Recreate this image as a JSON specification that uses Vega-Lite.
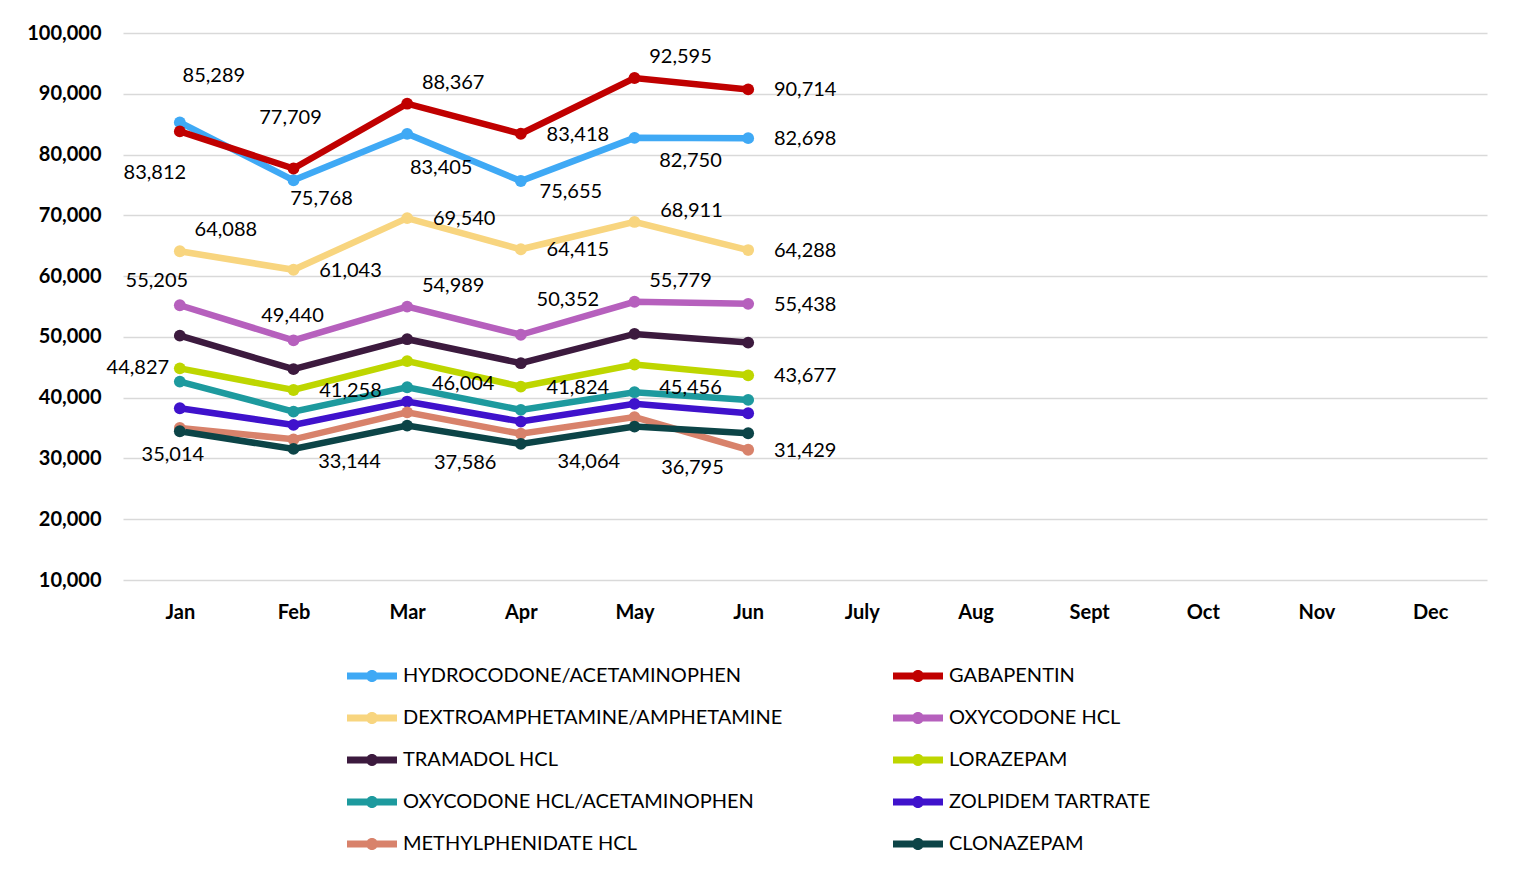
{
  "$schema": "https://vega.github.io/schema/vega-lite/v6.json",
  "width": 1364,
  "height": 547,
  "autosize": {"type": "none"},
  "padding": {"left": 123, "top": 33, "right": 36, "bottom": 292},
  "background": "white",
  "config": {"view": {"stroke": null}, "font": "Lato"},
  "data": {"values": [
    {"series": "HYDROCODONE/ACETAMINOPHEN", "month": "Jan", "value": 85289},
    {"series": "HYDROCODONE/ACETAMINOPHEN", "month": "Feb", "value": 75768},
    {"series": "HYDROCODONE/ACETAMINOPHEN", "month": "Mar", "value": 83405},
    {"series": "HYDROCODONE/ACETAMINOPHEN", "month": "Apr", "value": 75655},
    {"series": "HYDROCODONE/ACETAMINOPHEN", "month": "May", "value": 82750},
    {"series": "HYDROCODONE/ACETAMINOPHEN", "month": "Jun", "value": 82698},
    {"series": "GABAPENTIN", "month": "Jan", "value": 83812},
    {"series": "GABAPENTIN", "month": "Feb", "value": 77709},
    {"series": "GABAPENTIN", "month": "Mar", "value": 88367},
    {"series": "GABAPENTIN", "month": "Apr", "value": 83418},
    {"series": "GABAPENTIN", "month": "May", "value": 92595},
    {"series": "GABAPENTIN", "month": "Jun", "value": 90714},
    {"series": "DEXTROAMPHETAMINE/AMPHETAMINE", "month": "Jan", "value": 64088},
    {"series": "DEXTROAMPHETAMINE/AMPHETAMINE", "month": "Feb", "value": 61043},
    {"series": "DEXTROAMPHETAMINE/AMPHETAMINE", "month": "Mar", "value": 69540},
    {"series": "DEXTROAMPHETAMINE/AMPHETAMINE", "month": "Apr", "value": 64415},
    {"series": "DEXTROAMPHETAMINE/AMPHETAMINE", "month": "May", "value": 68911},
    {"series": "DEXTROAMPHETAMINE/AMPHETAMINE", "month": "Jun", "value": 64288},
    {"series": "OXYCODONE HCL", "month": "Jan", "value": 55205},
    {"series": "OXYCODONE HCL", "month": "Feb", "value": 49440},
    {"series": "OXYCODONE HCL", "month": "Mar", "value": 54989},
    {"series": "OXYCODONE HCL", "month": "Apr", "value": 50352},
    {"series": "OXYCODONE HCL", "month": "May", "value": 55779},
    {"series": "OXYCODONE HCL", "month": "Jun", "value": 55438},
    {"series": "TRAMADOL HCL", "month": "Jan", "value": 50200},
    {"series": "TRAMADOL HCL", "month": "Feb", "value": 44690},
    {"series": "TRAMADOL HCL", "month": "Mar", "value": 49620},
    {"series": "TRAMADOL HCL", "month": "Apr", "value": 45670},
    {"series": "TRAMADOL HCL", "month": "May", "value": 50490},
    {"series": "TRAMADOL HCL", "month": "Jun", "value": 49060},
    {"series": "LORAZEPAM", "month": "Jan", "value": 44827},
    {"series": "LORAZEPAM", "month": "Feb", "value": 41258},
    {"series": "LORAZEPAM", "month": "Mar", "value": 46004},
    {"series": "LORAZEPAM", "month": "Apr", "value": 41824},
    {"series": "LORAZEPAM", "month": "May", "value": 45456},
    {"series": "LORAZEPAM", "month": "Jun", "value": 43677},
    {"series": "OXYCODONE HCL/ACETAMINOPHEN", "month": "Jan", "value": 42650},
    {"series": "OXYCODONE HCL/ACETAMINOPHEN", "month": "Feb", "value": 37710},
    {"series": "OXYCODONE HCL/ACETAMINOPHEN", "month": "Mar", "value": 41720},
    {"series": "OXYCODONE HCL/ACETAMINOPHEN", "month": "Apr", "value": 37990},
    {"series": "OXYCODONE HCL/ACETAMINOPHEN", "month": "May", "value": 40900},
    {"series": "OXYCODONE HCL/ACETAMINOPHEN", "month": "Jun", "value": 39630},
    {"series": "ZOLPIDEM TARTRATE", "month": "Jan", "value": 38260},
    {"series": "ZOLPIDEM TARTRATE", "month": "Feb", "value": 35520},
    {"series": "ZOLPIDEM TARTRATE", "month": "Mar", "value": 39360},
    {"series": "ZOLPIDEM TARTRATE", "month": "Apr", "value": 36070},
    {"series": "ZOLPIDEM TARTRATE", "month": "May", "value": 38980},
    {"series": "ZOLPIDEM TARTRATE", "month": "Jun", "value": 37440},
    {"series": "METHYLPHENIDATE HCL", "month": "Jan", "value": 35014},
    {"series": "METHYLPHENIDATE HCL", "month": "Feb", "value": 33144},
    {"series": "METHYLPHENIDATE HCL", "month": "Mar", "value": 37586},
    {"series": "METHYLPHENIDATE HCL", "month": "Apr", "value": 34064},
    {"series": "METHYLPHENIDATE HCL", "month": "May", "value": 36795},
    {"series": "METHYLPHENIDATE HCL", "month": "Jun", "value": 31429},
    {"series": "CLONAZEPAM", "month": "Jan", "value": 34470},
    {"series": "CLONAZEPAM", "month": "Feb", "value": 31570},
    {"series": "CLONAZEPAM", "month": "Mar", "value": 35410},
    {"series": "CLONAZEPAM", "month": "Apr", "value": 32390},
    {"series": "CLONAZEPAM", "month": "May", "value": 35240},
    {"series": "CLONAZEPAM", "month": "Jun", "value": 34140}
  ]},
  "encoding": {
    "x": {"field": "month", "type": "nominal",
      "scale": {"type": "point", "padding": 0.5, "domain": ["Jan","Feb","Mar","Apr","May","Jun","July","Aug","Sept","Oct","Nov","Dec"]},
      "axis": {"title": null, "domain": false, "ticks": false, "labelAngle": 0, "labelPadding": 22, "labelFont": "Lato", "labelFontWeight": "bold", "labelFontSize": 20, "labelColor": "#000", "grid": false}},
    "y": {"field": "value", "type": "quantitative",
      "scale": {"domain": [10000, 100000], "nice": false, "zero": false},
      "axis": {"title": null, "domain": false, "ticks": false, "values": [10000,20000,30000,40000,50000,60000,70000,80000,90000,100000], "format": ",.0f", "labelPadding": 22, "labelFont": "Lato", "labelFontWeight": "bold", "labelFontSize": 20, "labelColor": "#000", "grid": true, "gridColor": "#d9d9d9", "gridWidth": 1.5}}
  },
  "layer": [
    {
      "mark": {"type": "line", "strokeWidth": 6.5, "point": {"filled": true, "size": 140}},
      "encoding": {
        "color": {"field": "series", "type": "nominal",
          "scale": {
            "domain": ["HYDROCODONE/ACETAMINOPHEN","DEXTROAMPHETAMINE/AMPHETAMINE","TRAMADOL HCL","OXYCODONE HCL/ACETAMINOPHEN","METHYLPHENIDATE HCL","GABAPENTIN","OXYCODONE HCL","LORAZEPAM","ZOLPIDEM TARTRATE","CLONAZEPAM"],
            "range": ["#3fa9f5","#f8d57f","#3c1a3e","#1d9a9e","#d8826b","#c00000","#b660bd","#bed600","#3f12cc","#0c4447"]
          },
          "legend": {
            "title": null, "orient": "none", "legendX": 229, "legendY": 623, "columns": 2, "padding": 0,
            "symbolType": "M-1.25,-0.175L1.25,-0.175L1.25,0.175L-1.25,0.175Z M0.3,0A0.3,0.3,0,1,1,-0.3,0A0.3,0.3,0,1,1,0.3,0Z",
            "symbolSize": 1600, "symbolStrokeWidth": 0, "labelOffset": 11, "rowPadding": 12, "columnPadding": 110,
            "labelFont": "Lato", "labelFontSize": 20, "labelColor": "#000", "labelLimit": 600,
            "encode": {"symbols": {"update": {"fill": {"scale": "color", "field": "value"}, "stroke": {"value": "transparent"}, "strokeWidth": {"value": 0}, "opacity": {"value": 1}}}}
          }
        }
      }
    },
    {"transform": [{"filter": "indexof(['HYDROCODONE/ACETAMINOPHEN|Jun','GABAPENTIN|Apr','GABAPENTIN|Jun','DEXTROAMPHETAMINE/AMPHETAMINE|Feb','DEXTROAMPHETAMINE/AMPHETAMINE|Mar','DEXTROAMPHETAMINE/AMPHETAMINE|Apr','DEXTROAMPHETAMINE/AMPHETAMINE|Jun','OXYCODONE HCL|Jun','LORAZEPAM|Feb','LORAZEPAM|Apr','LORAZEPAM|Jun','METHYLPHENIDATE HCL|Jun'], datum.series + '|' + datum.month) >= 0"}],
     "mark": {"type": "text", "dx": 57, "dy": 1, "font": "Lato", "fontSize": 20, "color": "#000"},
     "encoding": {"text": {"field": "value", "format": ","}}},
    {"transform": [{"filter": "indexof(['GABAPENTIN|Mar','GABAPENTIN|May','OXYCODONE HCL|Mar','OXYCODONE HCL|May','DEXTROAMPHETAMINE/AMPHETAMINE|Jan'], datum.series + '|' + datum.month) >= 0"}],
     "mark": {"type": "text", "dx": 46, "dy": -21, "font": "Lato", "fontSize": 20, "color": "#000"},
     "encoding": {"text": {"field": "value", "format": ","}}},
    {"transform": [{"filter": "indexof(['HYDROCODONE/ACETAMINOPHEN|May','LORAZEPAM|Mar','LORAZEPAM|May','METHYLPHENIDATE HCL|Feb'], datum.series + '|' + datum.month) >= 0"}],
     "mark": {"type": "text", "dx": 56, "dy": 23, "font": "Lato", "fontSize": 20, "color": "#000"},
     "encoding": {"text": {"field": "value", "format": ","}}},
    {"transform": [{"filter": "indexof(['METHYLPHENIDATE HCL|Apr'], datum.series + '|' + datum.month) >= 0"}],
     "mark": {"type": "text", "dx": 68, "dy": 28, "font": "Lato", "fontSize": 20, "color": "#000"},
     "encoding": {"text": {"field": "value", "format": ","}}},
    {"transform": [{"filter": "indexof(['METHYLPHENIDATE HCL|Mar','METHYLPHENIDATE HCL|May'], datum.series + '|' + datum.month) >= 0"}],
     "mark": {"type": "text", "dx": 58, "dy": 51, "font": "Lato", "fontSize": 20, "color": "#000"},
     "encoding": {"text": {"field": "value", "format": ","}}},
    {"transform": [{"filter": "indexof(['OXYCODONE HCL|Feb'], datum.series + '|' + datum.month) >= 0"}],
     "mark": {"type": "text", "dx": -1, "dy": -24, "font": "Lato", "fontSize": 20, "color": "#000"},
     "encoding": {"text": {"field": "value", "format": ","}}},
    {"transform": [{"filter": "indexof(['HYDROCODONE/ACETAMINOPHEN|Jan'], datum.series + '|' + datum.month) >= 0"}],
     "mark": {"type": "text", "dx": 34, "dy": -46, "font": "Lato", "fontSize": 20, "color": "#000"},
     "encoding": {"text": {"field": "value", "format": ","}}},
    {"transform": [{"filter": "indexof(['HYDROCODONE/ACETAMINOPHEN|Feb'], datum.series + '|' + datum.month) >= 0"}],
     "mark": {"type": "text", "dx": 28, "dy": 19, "font": "Lato", "fontSize": 20, "color": "#000"},
     "encoding": {"text": {"field": "value", "format": ","}}},
    {"transform": [{"filter": "indexof(['HYDROCODONE/ACETAMINOPHEN|Mar'], datum.series + '|' + datum.month) >= 0"}],
     "mark": {"type": "text", "dx": 34, "dy": 34, "font": "Lato", "fontSize": 20, "color": "#000"},
     "encoding": {"text": {"field": "value", "format": ","}}},
    {"transform": [{"filter": "indexof(['HYDROCODONE/ACETAMINOPHEN|Apr'], datum.series + '|' + datum.month) >= 0"}],
     "mark": {"type": "text", "dx": 50, "dy": 11, "font": "Lato", "fontSize": 20, "color": "#000"},
     "encoding": {"text": {"field": "value", "format": ","}}},
    {"transform": [{"filter": "indexof(['GABAPENTIN|Jan'], datum.series + '|' + datum.month) >= 0"}],
     "mark": {"type": "text", "dx": -25, "dy": 42, "font": "Lato", "fontSize": 20, "color": "#000"},
     "encoding": {"text": {"field": "value", "format": ","}}},
    {"transform": [{"filter": "indexof(['GABAPENTIN|Feb'], datum.series + '|' + datum.month) >= 0"}],
     "mark": {"type": "text", "dx": -3, "dy": -50, "font": "Lato", "fontSize": 20, "color": "#000"},
     "encoding": {"text": {"field": "value", "format": ","}}},
    {"transform": [{"filter": "indexof(['DEXTROAMPHETAMINE/AMPHETAMINE|May'], datum.series + '|' + datum.month) >= 0"}],
     "mark": {"type": "text", "dx": 57, "dy": -11, "font": "Lato", "fontSize": 20, "color": "#000"},
     "encoding": {"text": {"field": "value", "format": ","}}},
    {"transform": [{"filter": "indexof(['OXYCODONE HCL|Jan'], datum.series + '|' + datum.month) >= 0"}],
     "mark": {"type": "text", "dx": -23, "dy": -24, "font": "Lato", "fontSize": 20, "color": "#000"},
     "encoding": {"text": {"field": "value", "format": ","}}},
    {"transform": [{"filter": "indexof(['OXYCODONE HCL|Apr'], datum.series + '|' + datum.month) >= 0"}],
     "mark": {"type": "text", "dx": 47, "dy": -35, "font": "Lato", "fontSize": 20, "color": "#000"},
     "encoding": {"text": {"field": "value", "format": ","}}},
    {"transform": [{"filter": "indexof(['LORAZEPAM|Jan'], datum.series + '|' + datum.month) >= 0"}],
     "mark": {"type": "text", "dx": -42, "dy": 0, "font": "Lato", "fontSize": 20, "color": "#000"},
     "encoding": {"text": {"field": "value", "format": ","}}},
    {"transform": [{"filter": "indexof(['METHYLPHENIDATE HCL|Jan'], datum.series + '|' + datum.month) >= 0"}],
     "mark": {"type": "text", "dx": -7, "dy": 27, "font": "Lato", "fontSize": 20, "color": "#000"},
     "encoding": {"text": {"field": "value", "format": ","}}}
  ]
}
